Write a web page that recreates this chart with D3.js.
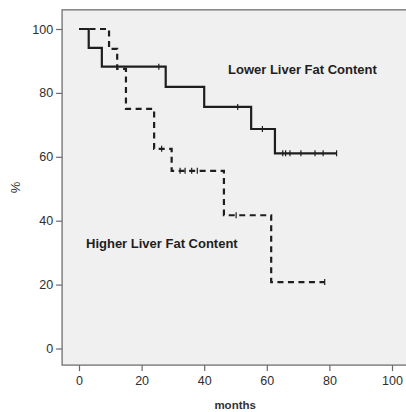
<!DOCTYPE html>
<html>
<head>
<meta charset="utf-8">
<script src="https://cdn.jsdelivr.net/npm/d3@7/dist/d3.min.js"></script>
<style>
  html, body { margin: 0; padding: 0; background: #fff; }
  svg { display: block; }
  text { font-family: "Liberation Sans", Arial, sans-serif; }
</style>
</head>
<body>
<svg id="chart" width="406" height="412"></svg>
<script>
// Kaplan-Meier survival estimates (%) by liver fat content group
const xTicks = [0, 20, 40, 60, 80, 100];
const yTicks = [0, 20, 40, 60, 80, 100];

// Lower liver fat content: event times (months) and survival after each event
const lowerEventTimes = [3.1, 7.3, 27.7, 40.0, 55.0, 62.6];
const lowerSurvival   = [94.1, 88.2, 81.9, 75.6, 68.7, 61.1];
const lowerCensored   = [25.5, 50.7, 58.6, 65.1, 66.0, 67.4, 70.9, 75.4, 78.0, 82.3];
const lowerEnd = 82.3;

// Higher liver fat content
const higherEventTimes = [9.6, 12.2, 15.0, 24.0, 29.6, 46.3, 61.4];
const higherSurvival   = [93.75, 87.5, 75.0, 62.5, 55.6, 41.7, 20.8];
const higherCensored   = [26.4, 32.3, 33.9, 36.0, 37.8, 50.2, 78.5];
const higherEnd = 78.5;

const groupLabels = ["Lower Liver Fat Content", "Higher Liver Fat Content"];

const svg = d3.select("#chart");

const x = d3.scaleLinear().domain([0, 100]).range([79, 392]);
const y = d3.scaleLinear().domain([0, 100]).range([348.5, 29]);

// plot frame
const frameLeft = x(-5.4), frameRight = x(105.5), frameTop = y(106), frameBottom = y(-5.2);
svg.append("rect")
  .attr("x", frameLeft).attr("y", frameTop)
  .attr("width", frameRight - frameLeft).attr("height", frameBottom - frameTop)
  .attr("fill", "#f0f0f0")
  .attr("stroke", "#7a7a7a")
  .attr("stroke-width", 1.4);

// axes
const yAxis = svg.append("g")
  .attr("transform", `translate(${frameLeft},0)`)
  .call(d3.axisLeft(y).tickValues(yTicks).tickSize(6).tickPadding(3).tickSizeOuter(0));
const xAxis = svg.append("g")
  .attr("transform", `translate(0,${frameBottom})`)
  .call(d3.axisBottom(x).tickValues(xTicks).tickSize(6).tickPadding(5).tickSizeOuter(0));
[yAxis, xAxis].forEach(g => {
  g.select(".domain").remove();
  g.selectAll(".tick line").attr("stroke", "#6a6a6a").attr("stroke-width", 1.2);
  g.selectAll(".tick text")
    .attr("fill", "#2e2e2e")
    .style("font-size", "12.5px")
    .style("font-family", "'Liberation Sans', Arial, sans-serif");
});

// axis titles
svg.append("text")
  .attr("x", (frameLeft + frameRight) / 2 - 0.5)
  .attr("y", 409)
  .attr("text-anchor", "middle")
  .attr("fill", "#333")
  .style("font-size", "11.5px")
  .style("font-weight", "bold")
  .text("months");
svg.append("text")
  .attr("transform", `translate(20,${(frameTop + frameBottom) / 2}) rotate(-90)`)
  .attr("text-anchor", "middle")
  .attr("fill", "#333")
  .style("font-size", "13px")
  .text("%");

// survival curves
function stepPoints(times, surv, end) {
  const pts = [[0, 100]];
  times.forEach((t, i) => pts.push([t, surv[i]]));
  pts.push([end, surv[surv.length - 1]]);
  return pts;
}
function survivalAt(times, surv, t) {
  let s = 100;
  times.forEach((tt, i) => { if (tt <= t) s = surv[i]; });
  return s;
}
const line = d3.line()
  .x(d => x(d[0])).y(d => y(d[1]))
  .curve(d3.curveStepAfter);

const groups = [
  { times: lowerEventTimes, surv: lowerSurvival, cens: lowerCensored, end: lowerEnd, dash: null },
  { times: higherEventTimes, surv: higherSurvival, cens: higherCensored, end: higherEnd, dash: "6,4.5" }
];

groups.forEach(g => {
  svg.append("path")
    .datum(stepPoints(g.times, g.surv, g.end))
    .attr("d", line)
    .attr("fill", "none")
    .attr("stroke", "#1e1e1e")
    .attr("stroke-width", 2.2)
    .attr("stroke-dasharray", g.dash);
  svg.append("g").selectAll("line")
    .data(g.cens)
    .join("line")
    .attr("x1", d => x(d)).attr("x2", d => x(d))
    .attr("y1", d => y(survivalAt(g.times, g.surv, d)) - 3)
    .attr("y2", d => y(survivalAt(g.times, g.surv, d)) + 3)
    .attr("stroke", "#1e1e1e")
    .attr("stroke-width", 1.2);
});

// group labels
svg.append("text")
  .attr("x", 228).attr("y", 73.5)
  .attr("fill", "#1e1e1e")
  .style("font-size", "13px")
  .style("font-weight", "bold")
  .text(groupLabels[0]);
svg.append("text")
  .attr("x", 86).attr("y", 248)
  .attr("fill", "#1e1e1e")
  .style("font-size", "13px")
  .style("font-weight", "bold")
  .text(groupLabels[1]);
</script>
</body>
</html>
